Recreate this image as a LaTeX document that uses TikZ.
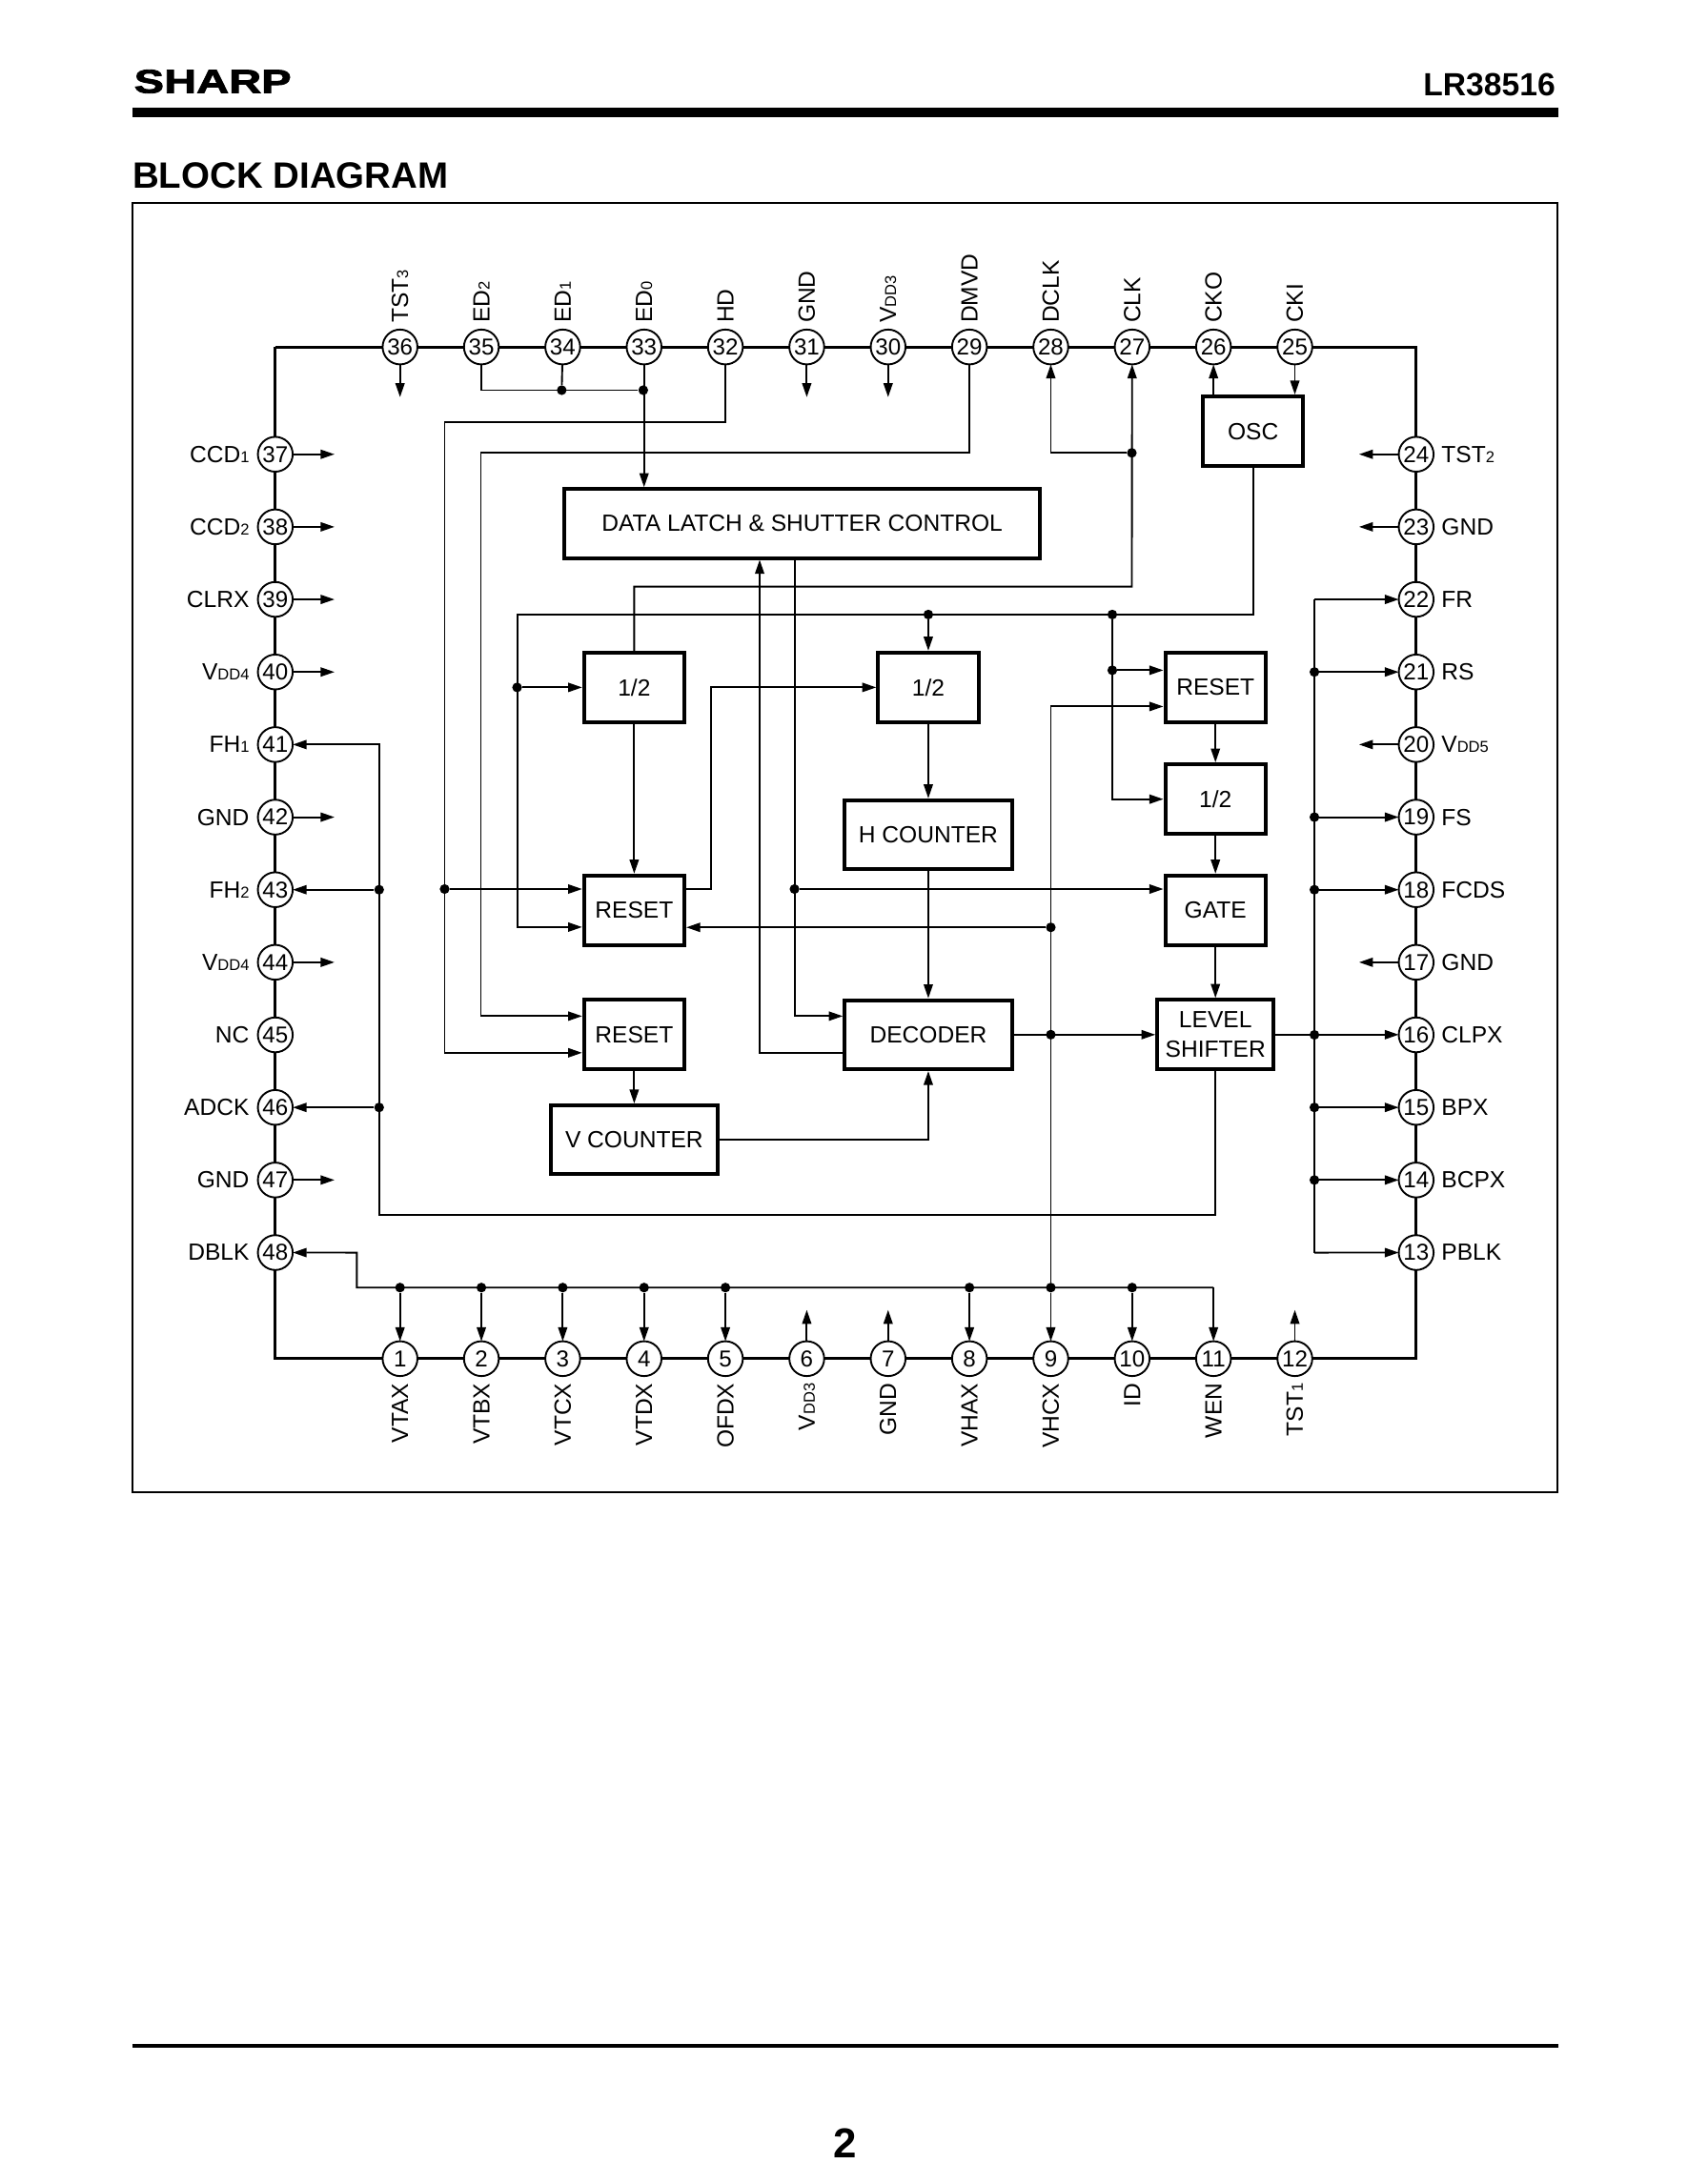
\documentclass[tikz,border=0pt]{standalone}
\usepackage{fontspec}
\setmainfont{Liberation Sans}
\newfontfamily\logofont{Liberation Sans}[UprightFont=* Bold,FakeStretch=1.36,FakeBold=2.5]
\usetikzlibrary{positioning,arrows.meta}
\newcommand{\lowtext}[1]{{\fontsize{11.3}{11}\selectfont #1}}
\tikzset{
    pinc/.style={draw, circle, line width=1.3pt, fill=white, inner sep=0pt, outer sep=0pt, minimum size=25pt, font=\fontsize{16.5}{16}\selectfont},
    pintext/.style={inner sep=0pt, font=\fontsize{16.8}{16.8}\selectfont},
    toplabel/.style={pintext, rotate=90, anchor=west},
    botlabel/.style={pintext, rotate=90, anchor=east},
    blockbox/.style={draw, line width=2.7pt, inner sep=0pt, align=center, font=\fontsize{16.8}{21}\selectfont},
    smallbox/.style={blockbox, minimum width=72pt, minimum height=50pt},
    widebox/.style={blockbox, minimum width=120pt, minimum height=49.5pt},
    jdot/.style={circle, fill, inner sep=0pt, minimum size=7pt},
    sig/.style={line width=1.3pt},
    arr/.style={sig, -{Triangle[length=10pt,width=6.5pt]}},
    pkgline/.style={line width=2.2pt},
    frameline/.style={line width=1.5pt},
}
\begin{document}
\begin{tikzpicture}[x=1pt, y=-1pt, node distance=27.08pt and 33.36pt]
    \useasboundingbox (0,0) rectangle (1211,1567.3);

    % page furniture
    \node [anchor=west, inner sep=0pt, font=\fontsize{23.7}{24}\selectfont\logofont] (logo) at (96,58.5) {SHARP};
    \node [anchor=east, inner sep=0pt, font=\fontsize{23}{24}\selectfont\bfseries] (partno) at (1116,61) {LR38516};
    \fill (95,77.5) rectangle (1118,84);
    \node [anchor=west, inner sep=0pt, font=\fontsize{26.3}{26}\selectfont\bfseries] (title) at (95,126) {BLOCK DIAGRAM};
    \draw [frameline] (95,145.5) rectangle (1117.5,1071);
    \draw [line width=2.5pt] (95,1468) -- (1118,1468);
    \node [inner sep=0pt, font=\fontsize{30}{30}\selectfont\bfseries] (pageno) at (606,1538) {2};

    % pins, top row
    \node [pinc] (p36) at (287,249) {36};
    \node [pinc, right=of p36] (p35) {35};
    \node [pinc, right=of p35] (p34) {34};
    \node [pinc, right=of p34] (p33) {33};
    \node [pinc, right=of p33] (p32) {32};
    \node [pinc, right=of p32] (p31) {31};
    \node [pinc, right=of p31] (p30) {30};
    \node [pinc, right=of p30] (p29) {29};
    \node [pinc, right=of p29] (p28) {28};
    \node [pinc, right=of p28] (p27) {27};
    \node [pinc, right=of p27] (p26) {26};
    \node [pinc, right=of p26] (p25) {25};

    % pins, bottom row
    \node [pinc] (p1) at (287,975) {1};
    \node [pinc, right=of p1] (p2) {2};
    \node [pinc, right=of p2] (p3) {3};
    \node [pinc, right=of p3] (p4) {4};
    \node [pinc, right=of p4] (p5) {5};
    \node [pinc, right=of p5] (p6) {6};
    \node [pinc, right=of p6] (p7) {7};
    \node [pinc, right=of p7] (p8) {8};
    \node [pinc, right=of p8] (p9) {9};
    \node [pinc, right=of p9] (p10) {10};
    \node [pinc, right=of p10] (p11) {11};
    \node [pinc, right=of p11] (p12) {12};

    % pins, left column
    \node [pinc] (p37) at (197.5,326) {37};
    \node [pinc, below=of p37] (p38) {38};
    \node [pinc, below=of p38] (p39) {39};
    \node [pinc, below=of p39] (p40) {40};
    \node [pinc, below=of p40] (p41) {41};
    \node [pinc, below=of p41] (p42) {42};
    \node [pinc, below=of p42] (p43) {43};
    \node [pinc, below=of p43] (p44) {44};
    \node [pinc, below=of p44] (p45) {45};
    \node [pinc, below=of p45] (p46) {46};
    \node [pinc, below=of p46] (p47) {47};
    \node [pinc, below=of p47] (p48) {48};

    % pins, right column
    \node [pinc] (p24) at (1016,326) {24};
    \node [pinc, below=of p24] (p23) {23};
    \node [pinc, below=of p23] (p22) {22};
    \node [pinc, below=of p22] (p21) {21};
    \node [pinc, below=of p21] (p20) {20};
    \node [pinc, below=of p20] (p19) {19};
    \node [pinc, below=of p19] (p18) {18};
    \node [pinc, below=of p18] (p17) {17};
    \node [pinc, below=of p17] (p16) {16};
    \node [pinc, below=of p16] (p15) {15};
    \node [pinc, below=of p15] (p14) {14};
    \node [pinc, below=of p14] (p13) {13};

    % package outline
    \coordinate (cornertl) at (197.5,249);
    \coordinate (cornertr) at (1016,249);
    \coordinate (cornerbl) at (197.5,975);
    \coordinate (cornerbr) at (1016,975);
    \draw [pkgline] (cornertl) -- (p36) -- (p35) -- (p34) -- (p33) -- (p32) -- (p31) -- (p30) -- (p29) -- (p28) -- (p27) -- (p26) -- (p25) -- (cornertr) -- (p24) -- (p23) -- (p22) -- (p21) -- (p20) -- (p19) -- (p18) -- (p17) -- (p16) -- (p15) -- (p14) -- (p13) -- (cornerbr) -- (p12) -- (p11) -- (p10) -- (p9) -- (p8) -- (p7) -- (p6) -- (p5) -- (p4) -- (p3) -- (p2) -- (p1) -- (cornerbl) -- (p48) -- (p47) -- (p46) -- (p45) -- (p44) -- (p43) -- (p42) -- (p41) -- (p40) -- (p39) -- (p38) -- (p37) -- (cornertl) -- cycle;

    % pin names
    \node [above=4.5pt of p36, toplabel] (l36) {TST\lowtext{3}};
    \node [above=4.5pt of p35, toplabel] (l35) {ED\lowtext{2}};
    \node [above=4.5pt of p34, toplabel] (l34) {ED\lowtext{1}};
    \node [above=4.5pt of p33, toplabel] (l33) {ED\lowtext{0}};
    \node [above=4.5pt of p32, toplabel] (l32) {HD};
    \node [above=4.5pt of p31, toplabel] (l31) {GND};
    \node [above=4.5pt of p30, toplabel] (l30) {V\lowtext{DD3}};
    \node [above=4.5pt of p29, toplabel] (l29) {DMVD};
    \node [above=4.5pt of p28, toplabel] (l28) {DCLK};
    \node [above=4.5pt of p27, toplabel] (l27) {CLK};
    \node [above=4.5pt of p26, toplabel] (l26) {CKO};
    \node [above=4.5pt of p25, toplabel] (l25) {CKI};

    \node [below=5pt of p1, botlabel] (l1) {VTAX};
    \node [below=5pt of p2, botlabel] (l2) {VTBX};
    \node [below=5pt of p3, botlabel] (l3) {VTCX};
    \node [below=5pt of p4, botlabel] (l4) {VTDX};
    \node [below=5pt of p5, botlabel] (l5) {OFDX};
    \node [below=5pt of p6, botlabel] (l6) {V\lowtext{DD3}};
    \node [below=5pt of p7, botlabel] (l7) {GND};
    \node [below=5pt of p8, botlabel] (l8) {VHAX};
    \node [below=5pt of p9, botlabel] (l9) {VHCX};
    \node [below=5pt of p10, botlabel] (l10) {ID};
    \node [below=5pt of p11, botlabel] (l11) {WEN};
    \node [below=5pt of p12, botlabel] (l12) {TST\lowtext{1}};

    \node [left=6pt of p37, pintext] (l37) {CCD\lowtext{1}};
    \node [left=6pt of p38, pintext] (l38) {CCD\lowtext{2}};
    \node [left=6pt of p39, pintext] (l39) {CLRX};
    \node [left=6pt of p40, pintext] (l40) {V\lowtext{DD4}};
    \node [left=6pt of p41, pintext] (l41) {FH\lowtext{1}};
    \node [left=6pt of p42, pintext] (l42) {GND};
    \node [left=6pt of p43, pintext] (l43) {FH\lowtext{2}};
    \node [left=6pt of p44, pintext] (l44) {V\lowtext{DD4}};
    \node [left=6pt of p45, pintext] (l45) {NC};
    \node [left=6pt of p46, pintext] (l46) {ADCK};
    \node [left=6pt of p47, pintext] (l47) {GND};
    \node [left=6pt of p48, pintext] (l48) {DBLK};

    \node [right=5.5pt of p24, pintext] (l24) {TST\lowtext{2}};
    \node [right=5.5pt of p23, pintext] (l23) {GND};
    \node [right=5.5pt of p22, pintext] (l22) {FR};
    \node [right=5.5pt of p21, pintext] (l21) {RS};
    \node [right=5.5pt of p20, pintext] (l20) {V\lowtext{DD5}};
    \node [right=5.5pt of p19, pintext] (l19) {FS};
    \node [right=5.5pt of p18, pintext] (l18) {FCDS};
    \node [right=5.5pt of p17, pintext] (l17) {GND};
    \node [right=5.5pt of p16, pintext] (l16) {CLPX};
    \node [right=5.5pt of p15, pintext] (l15) {BPX};
    \node [right=5.5pt of p14, pintext] (l14) {BCPX};
    \node [right=5.5pt of p13, pintext] (l13) {PBLK};

    % blocks
    \node [blockbox, minimum width=341.5pt, minimum height=49.5pt] (latch) at (575.5,375.7) {DATA LATCH \& SHUTTER CONTROL};
    \node [smallbox] (osc) at (899,309.5) {OSC};
    \node [smallbox] (halfa) at (455,493.3) {1/2};
    \node [smallbox] (halfb) at (666,493.3) {1/2};
    \node [smallbox] (halfc) at (872,573.5) {1/2};
    \node [smallbox] (resetc) at (872,493.3) {RESET};
    \node [smallbox] (reset1) at (455,653.3) {RESET};
    \node [smallbox] (reset2) at (455,742.5) {RESET};
    \node [smallbox] (gate) at (872,653.3) {GATE};
    \node [widebox] (hcount) at (666,599) {H COUNTER};
    \node [widebox] (decoder) at (666,742.5) {DECODER};
    \node [widebox] (vcount) at (455,818) {V COUNTER};
    \node [blockbox, minimum width=83.5pt, minimum height=50pt] (level) at (872,742.5) {LEVEL\\SHIFTER};

    % free ends of the supply and test pins
    \coordinate [below=23.5pt of p36] (o36);
    \coordinate [below=23.5pt of p31] (o31);
    \coordinate [below=23.5pt of p30] (o30);
    \coordinate [above=22.5pt of p6] (o6);
    \coordinate [above=22.5pt of p7] (o7);
    \coordinate [above=22.5pt of p12] (o12);
    \coordinate [right=30pt of p37] (o37);
    \coordinate [right=30pt of p38] (o38);
    \coordinate [right=30pt of p39] (o39);
    \coordinate [right=30pt of p40] (o40);
    \coordinate [right=30pt of p42] (o42);
    \coordinate [right=30pt of p44] (o44);
    \coordinate [right=30pt of p47] (o47);
    \coordinate [left=28.5pt of p24] (o24);
    \coordinate [left=28.5pt of p23] (o23);
    \coordinate [left=28.5pt of p20] (o20);
    \coordinate [left=28.5pt of p17] (o17);
    \draw [arr] (p36) -- (o36);
    \draw [arr] (p31) -- (o31);
    \draw [arr] (p30) -- (o30);
    \draw [arr] (p6) -- (o6);
    \draw [arr] (p7) -- (o7);
    \draw [arr] (p12) -- (o12);
    \draw [arr] (p37) -- (o37);
    \draw [arr] (p38) -- (o38);
    \draw [arr] (p39) -- (o39);
    \draw [arr] (p40) -- (o40);
    \draw [arr] (p42) -- (o42);
    \draw [arr] (p44) -- (o44);
    \draw [arr] (p47) -- (o47);
    \draw [arr] (p24) -- (o24);
    \draw [arr] (p23) -- (o23);
    \draw [arr] (p20) -- (o20);
    \draw [arr] (p17) -- (o17);

    % ED inputs, HD, DMVD
    \node [jdot] (jed1) at (403,280) {};
    \node [jdot] (jed0) at (461.5,280) {};
    \draw [sig] (p35) |- (jed0);
    \draw [sig] (p34) -- (jed1);
    \draw [arr] (p33) -- (p33 |- latch.north);
    \coordinate (hdturn) at (319,303);
    \node [jdot] (jhd) at (319,638) {};
    \draw [arr] (p32) |- (hdturn) |- ([yshift=-13pt]reset2.west);
    \draw [arr] (jhd) -- (jhd -| reset1.west);
    \coordinate (dmvdturn) at (345,325);
    \draw [arr] (p29) |- (dmvdturn) |- ([yshift=13.3pt]reset2.west);

    % clock outputs and oscillator
    \coordinate (clkturn) at (812,421);
    \node [jdot] (jclk) at (812,325) {};
    \draw [arr] (halfa) |- (clkturn) -- (p27);
    \draw [arr] (jclk) -| (p28);
    \draw [arr] (p26 |- osc.north) -- (p26);
    \draw [arr] (p25) -- (p25 |- osc.north);
    \coordinate (oscturn) at (371,441);
    \node [jdot] (josca) at (666,441) {};
    \node [jdot] (joscb) at (798,441) {};
    \node [jdot] (joscc) at (798,481) {};
    \node [jdot] (joscd) at (371,493.3) {};
    \draw [arr] (osc) |- (oscturn) |- ([yshift=-12pt]reset1.west);
    \draw [arr] (josca) -- (halfb);
    \draw [arr] (joscb) |- (halfc);
    \draw [arr] (joscc) -- (joscc -| resetc.west);
    \draw [arr] (joscd) -- (halfa);

    % inner block chain
    \coordinate (rstbend) at (510,493.3);
    \draw [arr] (halfa) -- (reset1);
    \draw [arr] ([yshift=15.3pt]reset1.east) -| (rstbend) -- (halfb);
    \draw [arr] (halfb) -- (hcount);
    \draw [arr] (hcount) -- (decoder);
    \node [jdot] (jgate) at (570,638) {};
    \draw [arr] (jgate |- latch.south) |- ([yshift=13.3pt]decoder.west);
    \draw [arr] (jgate) -- (jgate -| gate.west);
    \coordinate (latchin) at (545,401.7);
    \draw [arr] ([yshift=-13pt]decoder.west) -| (latchin);
    \draw [arr] (reset2) -- (vcount);
    \draw [arr] (vcount) -| (decoder);
    \draw [arr] (decoder) -- (level);
    \draw [arr] (resetc) -- (halfc);
    \draw [arr] (halfc) -- (gate);
    \draw [arr] (gate) -- (level);

    % bottom bus and VHCX line
    \coordinate (busy) at (0,924);
    \coordinate (dbturn) at (256,898.9);
    \node [jdot] (jb1) at (p1 |- busy) {};
    \node [jdot] (jb2) at (p2 |- busy) {};
    \node [jdot] (jb3) at (p3 |- busy) {};
    \node [jdot] (jb4) at (p4 |- busy) {};
    \node [jdot] (jb5) at (p5 |- busy) {};
    \node [jdot] (jb8) at (p8 |- busy) {};
    \node [jdot] (jb9) at (p9 |- busy) {};
    \node [jdot] (jb10) at (p10 |- busy) {};
    \draw [arr] (p11 |- busy) -| (dbturn) -- (p48);
    \draw [arr] (p11 |- busy) -- (p11);
    \draw [arr] (jb1) -- (p1);
    \draw [arr] (jb2) -- (p2);
    \draw [arr] (jb3) -- (p3);
    \draw [arr] (jb4) -- (p4);
    \draw [arr] (jb5) -- (p5);
    \draw [arr] (jb8) -- (p8);
    \draw [arr] (jb9) -- (p9);
    \draw [arr] (jb10) -- (p10);
    \node [jdot] (jvb) at (p9 |- decoder) {};
    \node [jdot] (jva) at (p9 |- 0,665.5) {};
    \draw [arr] (jb9) |- ([yshift=-13.7pt]resetc.west);
    \draw [arr] (jva) -- (jva -| reset1.east);

    % level shifter outputs
    \coordinate (fhturn) at (272,872);
    \node [jdot] (jfha) at (p43 -| fhturn) {};
    \node [jdot] (jfhb) at (p46 -| fhturn) {};
    \draw [arr] (level) |- (fhturn) |- (p41);
    \draw [arr] (jfha) -- (p43);
    \draw [arr] (jfhb) -- (p46);
    \coordinate (busa) at (943,430.16);
    \coordinate (busb) at (943,898.9);
    \node [jdot] (jr21) at (p21 -| busa) {};
    \node [jdot] (jr19) at (p19 -| busa) {};
    \node [jdot] (jr18) at (p18 -| busa) {};
    \node [jdot] (jr16) at (p16 -| busa) {};
    \node [jdot] (jr15) at (p15 -| busa) {};
    \node [jdot] (jr14) at (p14 -| busa) {};
    \draw [sig] (busa) -- (busb);
    \draw [arr] (busa) -- (p22);
    \draw [arr] (jr21) -- (p21);
    \draw [arr] (jr19) -- (p19);
    \draw [arr] (jr18) -- (p18);
    \draw [arr] (level.east) -- (level.east -| p16.west);
    \draw [arr] (jr15) -- (p15);
    \draw [arr] (jr14) -- (p14);
    \draw [arr] (busb) -- (p13);
\end{tikzpicture}
\end{document}
